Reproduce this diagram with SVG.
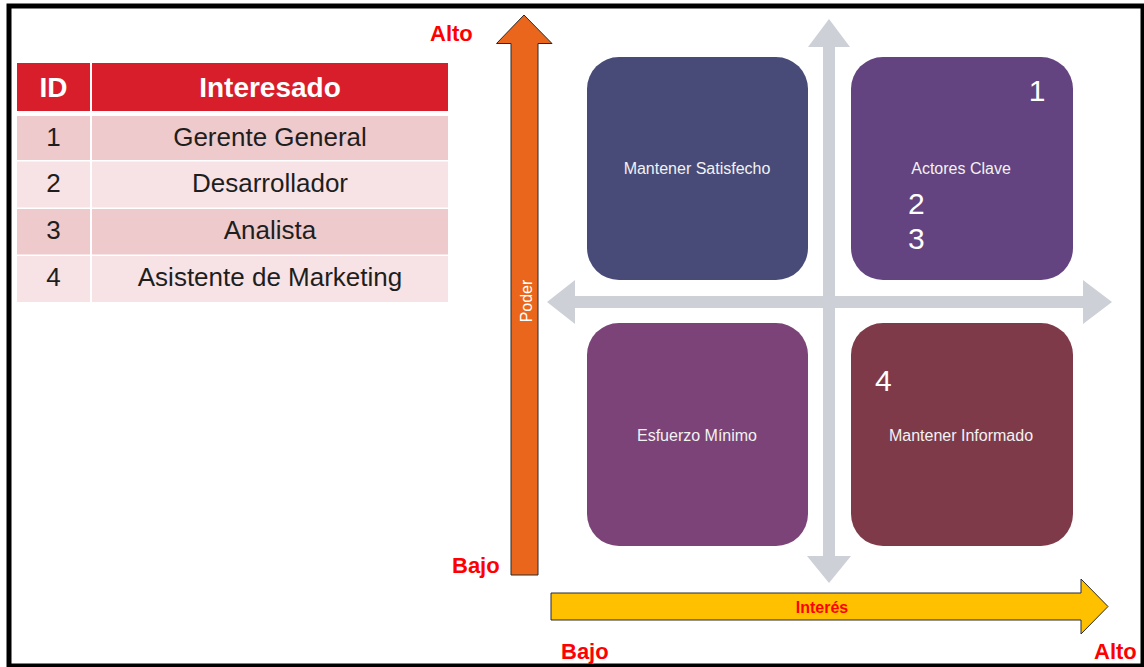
<svg xmlns="http://www.w3.org/2000/svg" width="1144" height="667" viewBox="0 0 1144 667">
  <style>
    .sans { font-family: "Liberation Sans", Arial, sans-serif; }
    .hdr { fill: #D81E2A; }
    .rowA { fill: #EFCACC; }
    .rowB { fill: #F7E3E5; }
    .hdrtxt { font-size: 28px; font-weight: bold; fill: #FFFFFF; text-anchor: middle; }
    .celltxt { font-size: 26px; fill: #1E1E1E; text-anchor: middle; }
    .axislbl { font-size: 22px; font-weight: bold; fill: #FF0000; }
    .quad { stroke: none; }
    .quadtxt { font-size: 16px; fill: #F2F2F2; text-anchor: middle; }
    .num { font-size: 30px; fill: #FFFFFF; }
    .cross { fill: #CED0D7; }
  </style>

  <!-- page background and frame -->
  <rect x="0" y="0" width="1144" height="667" fill="#FFFFFF"/>
  <rect x="9" y="6" width="1134" height="660" fill="none" stroke="#000000" stroke-width="5"/>

  <!-- stakeholder table -->
  <g id="stakeholder-table" class="sans">
    <rect class="hdr" x="17" y="63" width="73" height="48"/>
    <rect class="hdr" x="92" y="63" width="356" height="48"/>
    <text class="hdrtxt" x="53.5" y="97">ID</text>
    <text class="hdrtxt" x="270" y="97">Interesado</text>

    <rect class="rowA" x="17" y="116" width="73" height="44"/>
    <rect class="rowA" x="92" y="116" width="356" height="44"/>
    <text class="celltxt" x="53.5" y="146">1</text>
    <text class="celltxt" x="270" y="146">Gerente General</text>

    <rect class="rowB" x="17" y="161.5" width="73" height="46"/>
    <rect class="rowB" x="92" y="161.5" width="356" height="46"/>
    <text class="celltxt" x="53.5" y="192">2</text>
    <text class="celltxt" x="270" y="192">Desarrollador</text>

    <rect class="rowA" x="17" y="209" width="73" height="45.5"/>
    <rect class="rowA" x="92" y="209" width="356" height="45.5"/>
    <text class="celltxt" x="53.5" y="239">3</text>
    <text class="celltxt" x="270" y="239">Analista</text>

    <rect class="rowB" x="17" y="256" width="73" height="46"/>
    <rect class="rowB" x="92" y="256" width="356" height="46"/>
    <text class="celltxt" x="53.5" y="286">4</text>
    <text class="celltxt" x="270" y="286">Asistente de Marketing</text>
  </g>

  <!-- axes: grey quadrant cross, power (vertical) and interest (horizontal) -->
  <g id="connectors">
    <g id="cross">
      <path class="cross" d="M829 19 L850 47 L835 47 L835 556 L851 556 L829 583 L807 556 L823 556 L823 47 L808 47 Z"/>
      <path class="cross" d="M547 302 L575 280 L575 296 L1083 296 L1083 280 L1112 302 L1083 324 L1083 308 L575 308 L575 324 Z"/>
    </g>
    <g id="axis-poder">
      <path d="M524 15 L552 43.5 L538 43.5 L538 575 L511 575 L511 43.5 L496.5 43.5 Z" fill="#E9661C" stroke="#2A2A2A" stroke-width="1"/>
      <text class="sans" transform="translate(532 301) rotate(-90)" font-size="16" fill="#FFFFFF" text-anchor="middle">Poder</text>
    </g>
    <g id="axis-interes">
      <path d="M551 593 L1081 593 L1081 579 L1108 606.5 L1081 634 L1081 620 L551 620 Z" fill="#FFC000" stroke="#2A2A2A" stroke-width="1"/>
      <text class="sans" x="822" y="613" font-size="16" font-weight="bold" fill="#FF0000" text-anchor="middle">Interés</text>
    </g>
  </g>

  <!-- axis end labels -->
  <g id="axis-labels" class="sans">
    <text class="axislbl" x="430" y="41">Alto</text>
    <text class="axislbl" x="452" y="573">Bajo</text>
    <text class="axislbl" x="561" y="659">Bajo</text>
    <text class="axislbl" x="1094" y="659">Alto</text>
  </g>

  <!-- quadrants -->
  <g id="mantener-satisfecho" class="sans">
    <rect class="quad" x="587" y="57" width="221" height="223" rx="32" fill="#484B78"/>
    <text class="quadtxt" x="697" y="174">Mantener Satisfecho</text>
  </g>

  <g id="actores-clave" class="sans">
    <rect class="quad" x="851" y="57" width="222" height="223" rx="32" fill="#634380"/>
    <text class="quadtxt" x="961" y="174">Actores Clave</text>
    <text class="num" x="1037" y="101" text-anchor="middle">1</text>
    <text class="num" x="908" y="214">2</text>
    <text class="num" x="908" y="249">3</text>
  </g>

  <g id="esfuerzo-minimo" class="sans">
    <rect class="quad" x="587" y="323" width="221" height="223" rx="32" fill="#7B4377"/>
    <text class="quadtxt" x="697" y="441">Esfuerzo Mínimo</text>
  </g>

  <g id="mantener-informado" class="sans">
    <rect class="quad" x="851" y="323" width="222" height="223" rx="32" fill="#7F3A4A"/>
    <text class="quadtxt" x="961" y="441">Mantener Informado</text>
    <text class="num" x="875" y="391">4</text>
  </g>
</svg>
